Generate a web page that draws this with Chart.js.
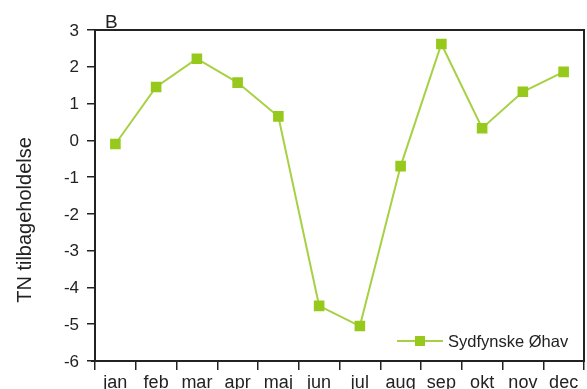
<!DOCTYPE html>
<html>
<head>
<meta charset="utf-8">
<script src="https://cdn.jsdelivr.net/npm/chart.js@4/dist/chart.umd.min.js"></script>
<style>
  html, body { margin: 0; padding: 0; background: #fff; overflow: hidden; }
  #wrap { width: 587px; height: 389px; position: relative; }
  canvas { display: block; }
</style>
</head>
<body>
<div id="wrap"><canvas id="chart"></canvas></div>
<script>
'use strict';

// DATA
const months = ['jan', 'feb', 'mar', 'apr', 'maj', 'jun', 'jul', 'aug', 'sep', 'okt', 'nov', 'dec'];
const retention = [-0.1, 1.45, 2.22, 1.57, 0.65, -4.5, -5.05, -0.7, 2.62, 0.33, 1.32, 1.86];
const seriesName = 'Sydfynske Øhav';
const yTitle = 'TN tilbageholdelse';
const panelLabel = 'B';

const ink = '#222';
const lineGreen = '#a8d044';
const markGreen = '#97c91c';
const font = 'Liberation Sans, Arial, Helvetica, sans-serif';

// frame + extra texts + legend
const decor = {
    id: 'decor',
    beforeDatasetsDraw(chart) {
        const a = chart.chartArea;
        const ctx = chart.ctx;
        ctx.save();
        ctx.strokeStyle = ink;
        ctx.lineWidth = 2;
        ctx.strokeRect(a.left, a.top, a.right - a.left, a.bottom - a.top);
        // x axis runs a bit past the y axis
        ctx.beginPath();
        ctx.moveTo(a.left - 4, a.bottom);
        ctx.lineTo(a.left, a.bottom);
        ctx.stroke();
        ctx.restore();
    },
    afterDraw(chart) {
        const ctx = chart.ctx;
        ctx.save();
        ctx.fillStyle = ink;

        // panel letter
        ctx.font = '19px ' + font;
        ctx.textBaseline = 'alphabetic';
        ctx.textAlign = 'left';
        ctx.fillText(panelLabel, 105, 28);

        // y title
        ctx.save();
        ctx.translate(31, 220);
        ctx.rotate(-Math.PI / 2);
        ctx.font = '20px ' + font;
        ctx.textAlign = 'center';
        ctx.textBaseline = 'alphabetic';
        ctx.fillText(yTitle, 0, 0);
        ctx.restore();

        // legend
        const ly = 341;
        ctx.strokeStyle = lineGreen;
        ctx.lineWidth = 2;
        ctx.beginPath();
        ctx.moveTo(397, ly);
        ctx.lineTo(443, ly);
        ctx.stroke();
        ctx.fillStyle = markGreen;
        ctx.fillRect(415, ly - 5, 10, 10);
        ctx.fillStyle = ink;
        ctx.font = '16.5px ' + font;
        ctx.textBaseline = 'middle';
        ctx.fillText(seriesName, 448, ly + 1);
        ctx.restore();
    }
};

new Chart(document.getElementById('chart'), {
    type: 'line',
    data: {
        labels: months,
        datasets: [{
            label: seriesName,
            data: retention,
            borderColor: lineGreen,
            borderWidth: 2,
            backgroundColor: markGreen,
            pointStyle: 'rect',
            pointRadius: 7.5,
            pointBorderWidth: 0,
            pointBackgroundColor: markGreen,
            tension: 0
        }]
    },
    options: {
        responsive: true,
        maintainAspectRatio: false,
        animation: false,
        layout: { autoPadding: false, padding: { top: 30, right: 3, left: 0, bottom: 0 } },
        plugins: { legend: { display: false }, tooltip: { enabled: false } },
        scales: {
            x: {
                offset: true,
                grid: { offset: true, drawOnChartArea: false, drawTicks: true, tickLength: 9, color: ink, lineWidth: 1.5 },
                border: { display: false },
                ticks: { color: ink, font: { family: font, size: 18 }, padding: 2, maxRotation: 0, autoSkip: false },
                afterFit(s) { s.height = 28; s.paddingLeft = 0; s.paddingRight = 0; }
            },
            y: {
                min: -6,
                max: 3,
                grid: { drawOnChartArea: false, drawTicks: true, tickLength: 8, color: ink, lineWidth: 1.5 },
                border: { display: false },
                ticks: { stepSize: 1, color: ink, font: { family: font, size: 17 }, padding: 8, labelOffset: 1 },
                afterFit(s) { s.width = 95; }
            }
        }
    },
    plugins: [decor]
});
</script>
</body>
</html>
